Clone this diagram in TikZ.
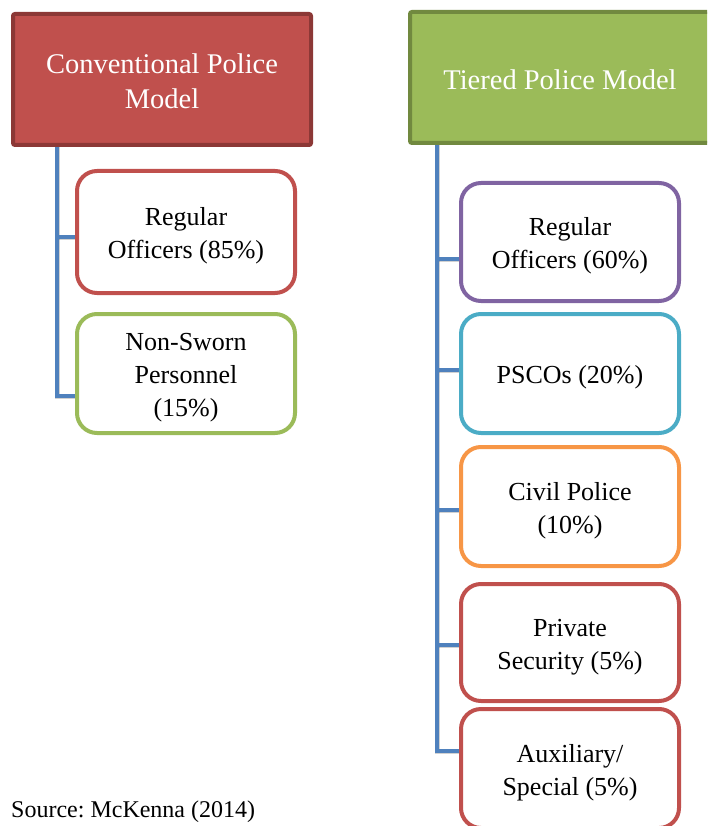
\documentclass[tikz,border=0pt]{standalone}
\usepackage{fontspec}
\setmainfont{Liberation Serif}
\frenchspacing
\usetikzlibrary{backgrounds}
\definecolor{cred}{HTML}{C0504D}
\definecolor{credd}{HTML}{8C3836}
\definecolor{cgreen}{HTML}{9BBB59}
\definecolor{cgreend}{HTML}{71893F}
\definecolor{cpurple}{HTML}{8064A2}
\definecolor{caqua}{HTML}{4BACC6}
\definecolor{corange}{HTML}{F79646}
\definecolor{cblue}{HTML}{4F81BD}
\newcommand\topst{\rule{0pt}{26pt}}
\newcommand\hdst{\rule{0pt}{24pt}}
\begin{document}
\begin{tikzpicture}[x=1pt,y=-1pt,
  hdr/.style={line width=4pt, rounded corners=2pt, minimum width=298pt,
    minimum height=131pt, align=center, text=white, inner sep=0pt,
    font=\fontsize{28.5}{35}\selectfont},
  item/.style={draw=#1, line width=4pt, rounded corners=20pt, fill=white,
    minimum width=218pt, align=center, inner sep=0pt,
    font=\fontsize{26}{33}\selectfont},
  conn/.style={draw=cblue, line width=4pt},
  shad/.style={draw=black, opacity=0.18, line width=5pt},
  src/.style={font=\fontsize{24}{28}\selectfont, anchor=base west, inner sep=0pt}]
\useasboundingbox (0,0) rectangle (707,826);
\clip (0,0) rectangle (707,826);
% headers
\node[hdr, draw=credd, fill=cred] (h1) at (162,79.5) {\hdst Conventional Police\\Model};
\node[hdr, draw=cgreend, fill=cgreen, minimum width=300pt] (h2) at (560,77.5) {\hdst Tiered Police Model};
% left boxes
\node[item=cred, minimum height=122pt] (l1) at (186,232) {\topst Regular\\Officers (85\%)};
\node[item=cgreen, minimum height=119pt] (l2) at (186,373.5) {\topst Non-Sworn\\Personnel\\(15\%)};
% right boxes
\node[item=cpurple, minimum height=118pt] (r1) at (570,242) {\topst Regular\\Officers (60\%)};
\node[item=caqua, minimum height=119pt] (r2) at (570,373.5) {\topst PSCOs (20\%)};
\node[item=corange, minimum height=119pt] (r3) at (570,506.5) {\topst Civil Police\\(10\%)};
\node[item=cred, minimum height=117pt] (r4) at (570,642.5) {\topst Private\\Security (5\%)};
\node[item=cred, minimum height=119pt] (r5) at (570,768.5) {\topst Auxiliary/\\Special (5\%)};
% branch points
\coordinate (lt) at (57,147);
\coordinate (lb1) at (57,237);
\coordinate (lb2) at (57,396);
\coordinate (rt) at (437,145);
\coordinate (rb1) at (437,259);
\coordinate (rb2) at (437,370);
\coordinate (rb3) at (437,510);
\coordinate (rb4) at (437,645);
\coordinate (rb5) at (437,751);
\begin{scope}[on background layer]
% shadows
\begin{scope}[shift={(2,3)}]
\draw[shad] (lt) -- (lb2) -- (lb2 -| l2.west);
\draw[shad] (lb1) -- (lb1 -| l1.west);
\draw[shad] (rt) -- (rb5) -- (rb5 -| r5.west);
\foreach \b/\n in {rb1/r1,rb2/r2,rb3/r3,rb4/r4} \draw[shad] (\b) -- (\b -| \n.west);
\end{scope}
% connectors
\draw[conn] (lt) -- (lb2) -- (lb2 -| l2.west);
\draw[conn] (lb1) -- (lb1 -| l1.west);
\draw[conn] (rt) -- (rb5) -- (rb5 -| r5.west);
\foreach \b/\n in {rb1/r1,rb2/r2,rb3/r3,rb4/r4} \draw[conn] (\b) -- (\b -| \n.west);
\end{scope}
\node[src] (src) at (11,817) {Source: McKenna (2014)};
\end{tikzpicture}
\end{document}
